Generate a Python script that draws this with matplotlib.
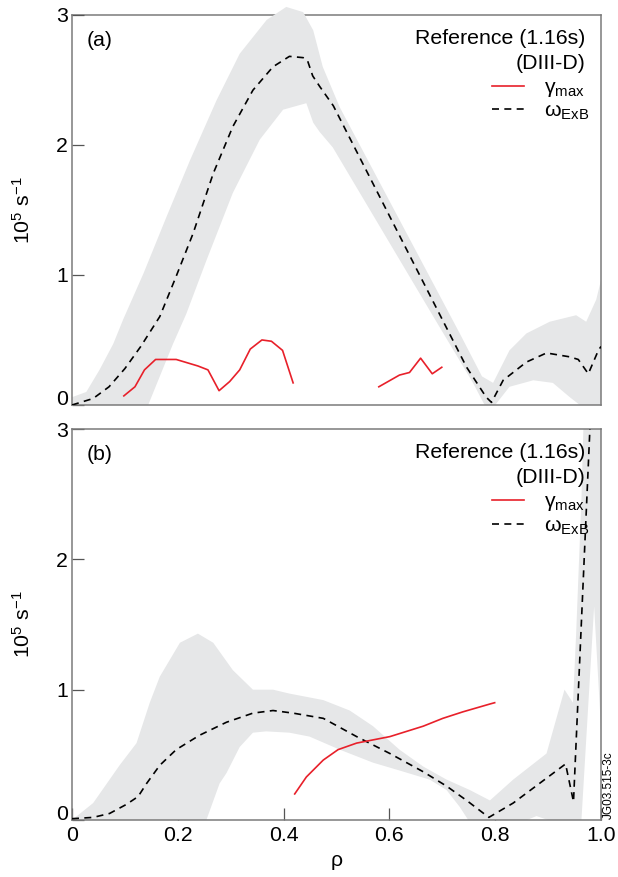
import matplotlib
matplotlib.use("Agg")
import matplotlib.pyplot as plt
from matplotlib.lines import Line2D

plt.rcParams["font.family"] = ["Liberation Sans", "DejaVu Sans"]
plt.rcParams["mathtext.fontset"] = "custom"
plt.rcParams["mathtext.rm"] = "Liberation Sans"
plt.rcParams["mathtext.it"] = "Liberation Sans:italic"
plt.rcParams["mathtext.default"] = "regular"

# ---- panel (a) data ----
rho_exb_a = [0, 0.04, 0.07, 0.10, 0.13, 0.166, 0.197, 0.229, 0.267, 0.304, 0.342, 0.380,
             0.411, 0.437, 0.445, 0.455, 0.468, 0.494, 0.746, 0.783, 0.793, 0.815, 0.859,
             0.897, 0.941, 0.957, 0.976, 0.995, 1.0]
exb_a = [0.0, 0.05, 0.14, 0.28, 0.45, 0.68, 0.99, 1.32, 1.78, 2.14, 2.42, 2.60,
         2.68, 2.67, 2.65, 2.53, 2.45, 2.30, 0.29, 0.06, 0.02, 0.19, 0.33,
         0.40, 0.37, 0.35, 0.24, 0.42, 0.45]

rho_up_a = [0, 0.027, 0.052, 0.078, 0.097, 0.135, 0.179, 0.223, 0.273, 0.317, 0.368, 0.405,
            0.437, 0.456, 0.474, 0.506, 0.733, 0.775, 0.796, 0.827, 0.859,
            0.903, 0.953, 0.972, 0.991, 1.0]
up_a = [0.06, 0.10, 0.27, 0.47, 0.66, 1.01, 1.45, 1.88, 2.34, 2.70, 2.96, 3.06,
        3.02, 2.88, 2.60, 2.29, 0.55, 0.22, 0.17, 0.42, 0.55,
        0.64, 0.69, 0.64, 0.81, 0.96]
rho_lo_a = [0, 0.144, 0.166, 0.191, 0.216, 0.254, 0.304, 0.355, 0.399, 0.443, 0.456, 0.468,
            0.493, 0.683, 0.758, 0.78, 0.80, 0.827, 0.872, 0.909, 0.941, 0.96, 1.0]
lo_a = [0, 0, 0.22, 0.47, 0.70, 1.11, 1.63, 2.04, 2.27, 2.32, 2.17, 2.10,
        1.98, 0.68, 0.17, 0, 0, 0.14, 0.19, 0.17, 0.06, 0, 0]

rho_gam_a1 = [0.098, 0.119, 0.137, 0.158, 0.197, 0.238, 0.257, 0.278, 0.298, 0.317,
              0.337, 0.359, 0.377, 0.398, 0.418]
gam_a1 = [0.07, 0.14, 0.27, 0.35, 0.35, 0.30, 0.27, 0.11, 0.18, 0.27,
          0.43, 0.50, 0.49, 0.42, 0.17]
rho_gam_a2 = [0.580, 0.619, 0.638, 0.659, 0.681, 0.699]
gam_a2 = [0.14, 0.23, 0.25, 0.36, 0.24, 0.29]

# ---- panel (b) data ----
rho_exb_b = [0, 0.04, 0.071, 0.103, 0.125, 0.141, 0.166, 0.197, 0.241, 0.292, 0.342, 0.380,
             0.418, 0.475, 0.538, 0.601, 0.664, 0.708, 0.746, 0.788, 0.834, 0.933, 0.948,
             0.979, 0.99]
exb_b = [0.01, 0.02, 0.05, 0.12, 0.18, 0.28, 0.42, 0.54, 0.65, 0.75, 0.82, 0.84,
         0.82, 0.78, 0.64, 0.51, 0.37, 0.26, 0.15, 0.02, 0.13, 0.43, 0.14,
         3.0, 3.9]

rho_up_b = [0, 0.04, 0.09, 0.122, 0.147, 0.166, 0.204, 0.238, 0.267, 0.304, 0.342, 0.380,
            0.411, 0.475, 0.525, 0.569, 0.619, 0.664, 0.708, 0.752, 0.79, 0.834, 0.897,
            0.931, 0.947, 0.953, 0.963, 0.968, 1.0]
up_b = [0, 0.13, 0.42, 0.59, 0.90, 1.10, 1.36, 1.43, 1.36, 1.15, 1.0, 1.0,
        0.97, 0.92, 0.84, 0.72, 0.54, 0.41, 0.31, 0.23, 0.15, 0.31, 0.51,
        1.0, 0.90, 1.43, 2.46, 3.2, 3.2]
rho_lo_b = [0, 0.254, 0.279, 0.292, 0.317, 0.342, 0.367, 0.411, 0.449, 0.506, 0.569, 0.619,
            0.676, 0.708, 0.733, 0.749, 0.86, 0.878, 0.90, 0.963, 0.987, 1.0]
lo_b = [0, 0, 0.28, 0.36, 0.56, 0.67, 0.68, 0.67, 0.64, 0.54, 0.44, 0.38,
        0.31, 0.23, 0.10, 0, 0, 0.03, 0, 0, 1.64, 0.7]

rho_gam_b = [0.421, 0.443, 0.475, 0.503, 0.538, 0.601, 0.664, 0.701, 0.739, 0.79, 0.799]
gam_b = [0.20, 0.33, 0.46, 0.54, 0.59, 0.64, 0.72, 0.78, 0.83, 0.89, 0.90]

x_ticks = [0, 0.2, 0.4, 0.6, 0.8, 1.0]
x_ticklabels = ["0", "0.2", "0.4", "0.6", "0.8", "1.0"]
y_ticks = [0, 1, 2, 3]

band_color = "#e6e7e8"
red = "#e8202a"
dash = (0, (4.2, 3.2))
fs = 15.3

fig = plt.figure(figsize=(6.18, 8.77), dpi=100)
ax1 = fig.add_axes([0.1165, 0.5382, 0.856, 0.445])
ax2 = fig.add_axes([0.1165, 0.065, 0.856, 0.4458])


def style(ax, label, show_x):
    ax.set_xlim(0, 1)
    ax.set_ylim(0, 3)
    ax.set_axisbelow(True)
    for s in ax.spines.values():
        s.set_color("#7a7a7a")
        s.set_linewidth(1.1)
    ax.set_yticks(y_ticks)
    ax.set_xticks(x_ticks)
    ax.set_xticklabels(x_ticklabels)
    ax.tick_params(direction="in", length=8.4, width=0.9, color="#555555",
                   labelsize=fs, pad=3, right=False, top=False)
    ax.tick_params(axis="x", pad=4)
    if not show_x:
        ax.tick_params(axis="x", length=0, labelbottom=False)
    # the zero label sits a little above its tick
    ax.get_yticklabels()[0].set_verticalalignment("baseline")
    ax.set_ylabel("10$^5$ s$^{-1}$", fontsize=fs)
    ax.yaxis.set_label_coords(-0.073, 0.5)
    ax.text(0.028, 0.935, label, transform=ax.transAxes, fontsize=fs, va="center", ha="left")
    ax.text(0.971, 0.94, "Reference (1.16s)", transform=ax.transAxes, fontsize=fs,
            va="center", ha="right")
    ax.text(0.971, 0.876, "(DIII-D)", transform=ax.transAxes, fontsize=fs,
            va="center", ha="right")
    handles = [Line2D([], [], color=red, lw=1.2),
               Line2D([], [], color="black", lw=1.2, linestyle=dash)]
    ax.legend(handles, ["γ$_{max}$", "ω$_{ExB}$"], loc="upper right",
              bbox_to_anchor=(0.978, 0.838), frameon=False, fontsize=fs,
              handlelength=1.5, handletextpad=0.95, labelspacing=0.14, borderpad=0,
              borderaxespad=0)


# panel (a)
ax1.fill(rho_up_a + rho_lo_a[::-1], up_a + lo_a[::-1], color=band_color, lw=0,
         zorder=1, clip_on=False)
ax1.spines["top"].set_zorder(0.5)
ax1.plot(rho_exb_a, exb_a, color="black", lw=1.2, linestyle=dash, zorder=3)
ax1.plot(rho_gam_a1, gam_a1, color=red, lw=1.2, zorder=3)
ax1.plot(rho_gam_a2, gam_a2, color=red, lw=1.2, zorder=3)
style(ax1, "(a)", False)

# panel (b)
ax2.fill(rho_up_b + rho_lo_b[::-1], up_b + lo_b[::-1], color=band_color, lw=0, zorder=1)
ax2.plot(rho_exb_b, exb_b, color="black", lw=1.2, linestyle=dash, zorder=3)
ax2.plot(rho_gam_b, gam_b, color=red, lw=1.2, zorder=3)
style(ax2, "(b)", True)
ax2.set_xlabel("ρ", fontsize=fs, labelpad=5)

fig.text(0.985, 0.066, "JG03.515-3c", rotation=90, fontsize=8.5, ha="center", va="bottom")

fig.savefig("out.png", dpi=100)
